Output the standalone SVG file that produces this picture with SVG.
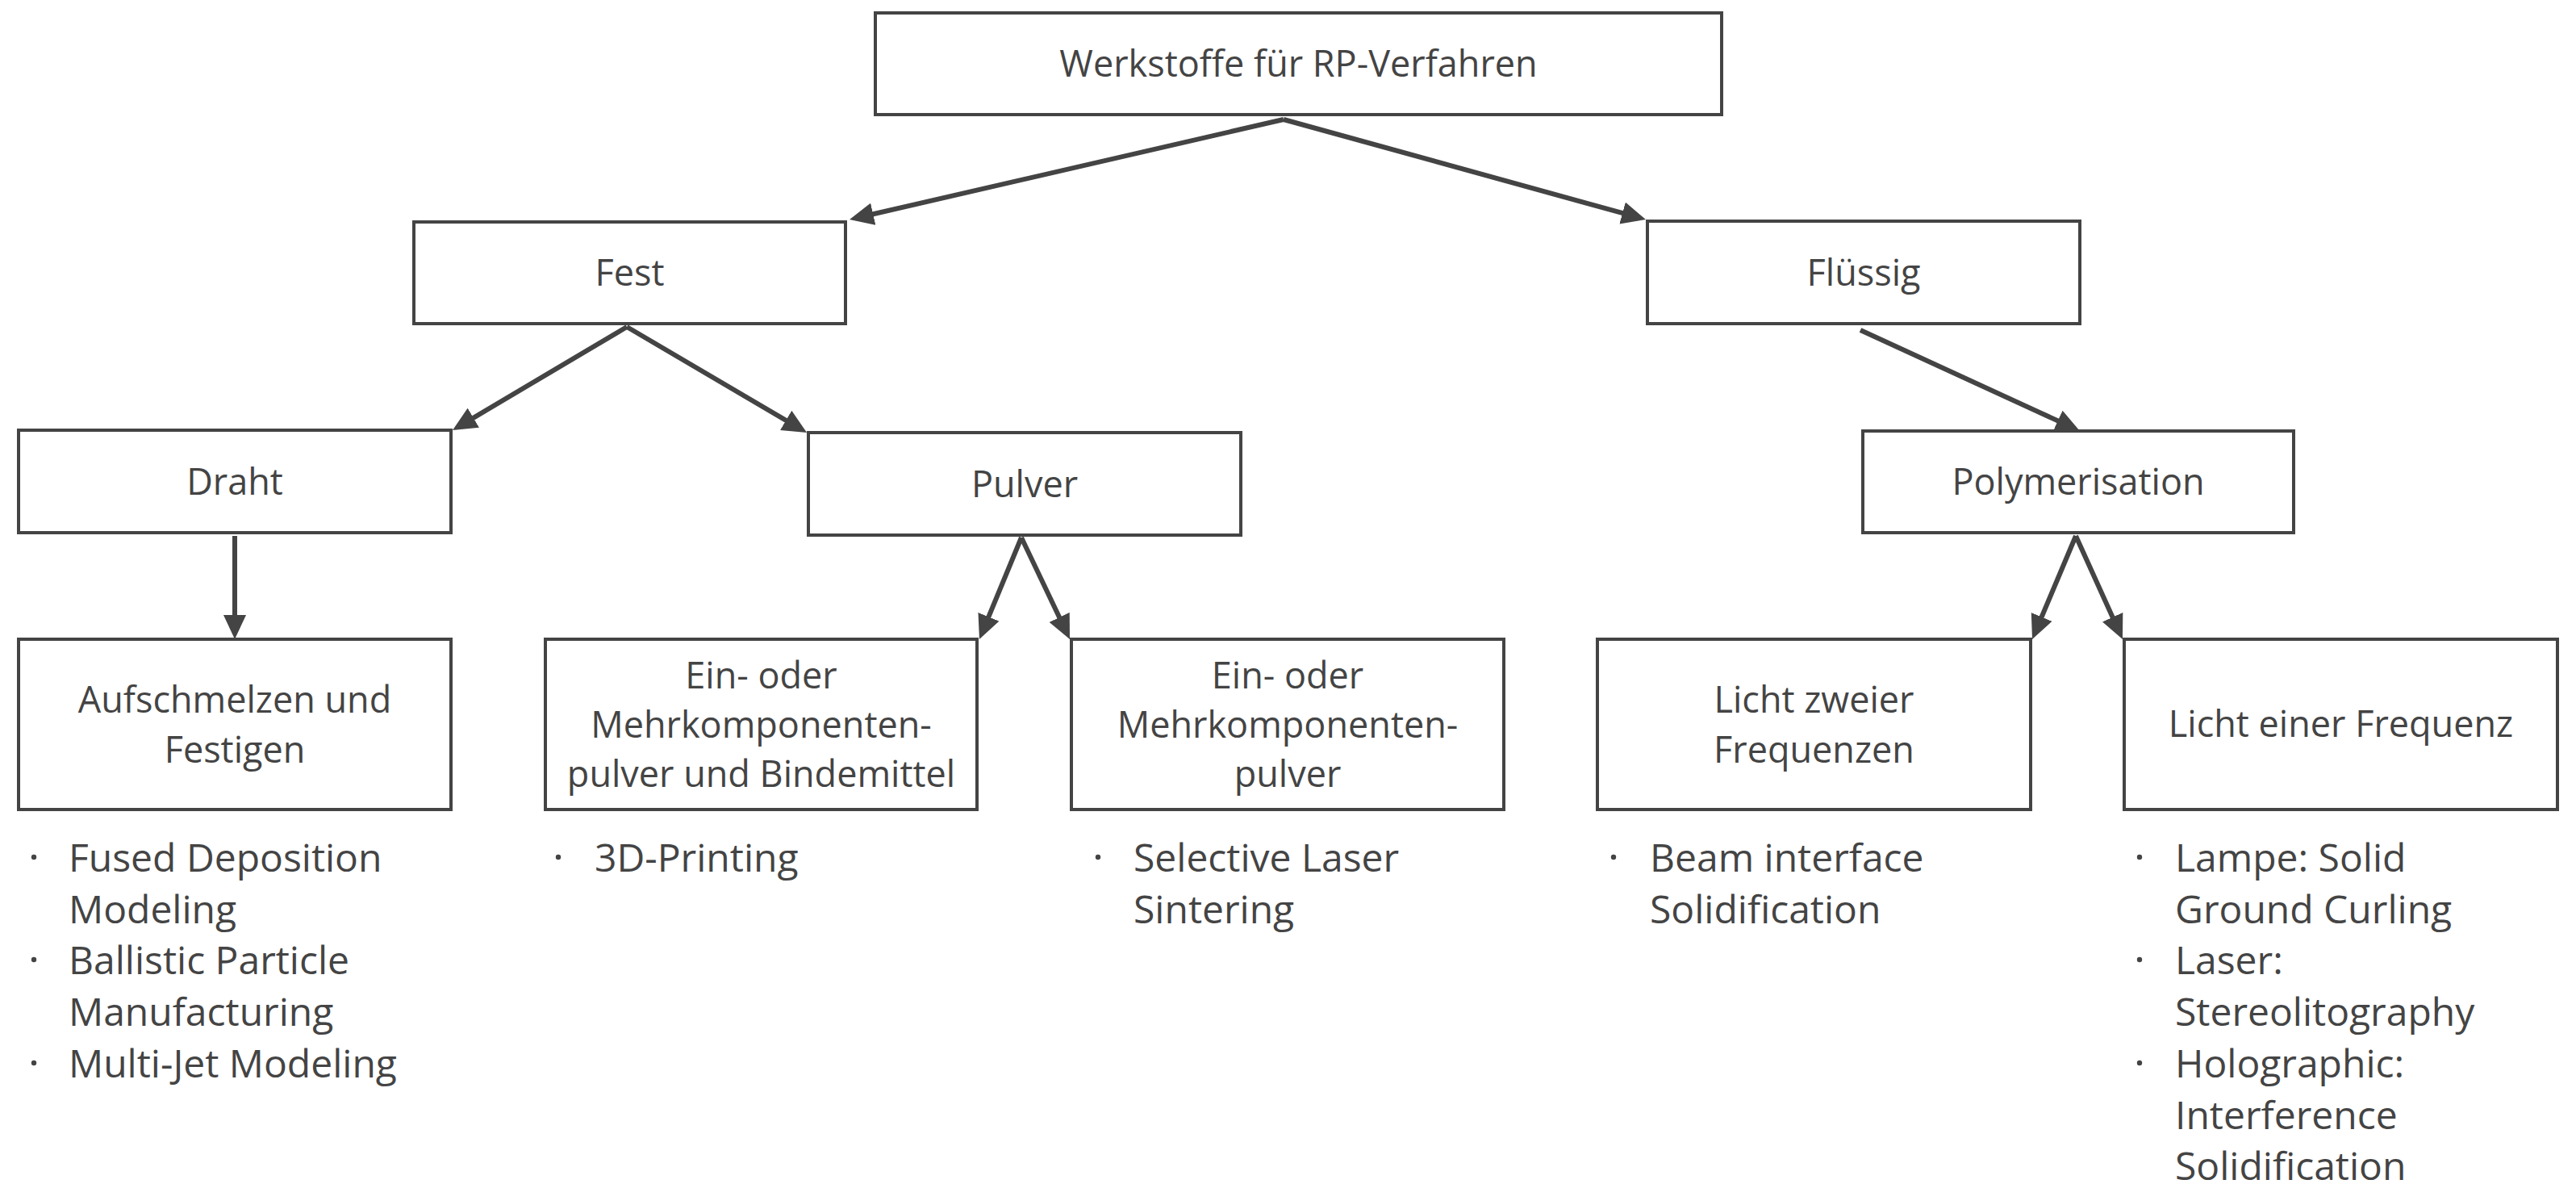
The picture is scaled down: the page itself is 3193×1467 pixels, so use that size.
<svg xmlns="http://www.w3.org/2000/svg" width="3193" height="1467" viewBox="0 0 3193 1467">
<style>
.box{fill:#ffffff;stroke:#444444;stroke-width:4}
.t{font-family:"Open Sans","Liberation Sans",sans-serif;font-size:45px;fill:#444444}
.b{font-family:"Open Sans","Liberation Sans",sans-serif;font-size:48px;fill:#444444}
.c{text-anchor:middle}
.con{stroke:#444444;stroke-width:6;fill:none}
.dot{fill:#444444}
</style>
<defs>
<marker id="ah" viewBox="0 0 30 28" refX="10" refY="14" markerWidth="30" markerHeight="28" markerUnits="userSpaceOnUse" orient="auto">
<path d="M0,0 L30,14 L0,28 z" fill="#444444"/>
</marker>
</defs>
<rect width="3193" height="1467" fill="#ffffff"/>
<g id="connectors">
<line class="con" x1="1591" y1="148" x2="1072.5" y2="267.5" marker-end="url(#ah)"/>
<line class="con" x1="1591" y1="148" x2="2020.7" y2="266.7" marker-end="url(#ah)"/>
<line class="con" x1="777" y1="405" x2="578.2" y2="522.8" marker-end="url(#ah)"/>
<line class="con" x1="777" y1="405" x2="982.8" y2="525.9" marker-end="url(#ah)"/>
<line class="con" x1="291" y1="664" x2="291" y2="772" marker-end="url(#ah)"/>
<line class="con" x1="1266" y1="666" x2="1221.6" y2="773.5" marker-end="url(#ah)"/>
<line class="con" x1="1266" y1="666" x2="1317.4" y2="773.9" marker-end="url(#ah)"/>
<line class="con" x1="2306" y1="409" x2="2559.8" y2="525.6" marker-end="url(#ah)"/>
<line class="con" x1="2573" y1="664" x2="2526.8" y2="773.6" marker-end="url(#ah)"/>
<line class="con" x1="2573" y1="664" x2="2622.7" y2="773.8" marker-end="url(#ah)"/>
</g>
<g id="n-root">
<rect class="box" x="1085" y="16" width="1049" height="126"/>
<text class="t c" x="1609.5" y="95">Werkstoffe für RP-Verfahren</text>
</g>
<g id="n-fest">
<rect class="box" x="513" y="275" width="535" height="126"/>
<text class="t c" x="780.5" y="354">Fest</text>
</g>
<g id="n-fluessig">
<rect class="box" x="2042" y="274" width="536" height="127"/>
<text class="t c" x="2310" y="354">Flüssig</text>
</g>
<g id="n-draht">
<rect class="box" x="23" y="533" width="536" height="127"/>
<text class="t c" x="291" y="613">Draht</text>
</g>
<g id="n-pulver">
<rect class="box" x="1002" y="536" width="536" height="127"/>
<text class="t c" x="1270" y="616">Pulver</text>
</g>
<g id="n-polymerisation">
<rect class="box" x="2309" y="534" width="534" height="126"/>
<text class="t c" x="2576" y="613">Polymerisation</text>
</g>
<g id="n-aufschmelzen">
<rect class="box" x="23" y="792" width="536" height="211"/>
<text class="t c" x="291" y="883">Aufschmelzen und</text>
<text class="t c" x="291" y="945">Festigen</text>
<circle class="dot" cx="42" cy="1062" r="3.2"/>
<text class="b" x="85" y="1080">Fused Deposition</text>
<text class="b" x="85" y="1143.5">Modeling</text>
<circle class="dot" cx="42" cy="1189" r="3.2"/>
<text class="b" x="85" y="1207">Ballistic Particle</text>
<text class="b" x="85" y="1271">Manufacturing</text>
<circle class="dot" cx="42" cy="1317" r="3.2"/>
<text class="b" x="85" y="1335">Multi-Jet Modeling</text>
</g>
<g id="n-bindemittel">
<rect class="box" x="676" y="792" width="535" height="211"/>
<text class="t c" x="943.5" y="853">Ein- oder</text>
<text class="t c" x="943.5" y="914">Mehrkomponenten-</text>
<text class="t c" x="943.5" y="975">pulver und Bindemittel</text>
<circle class="dot" cx="692" cy="1062" r="3.2"/>
<text class="b" x="737" y="1080">3D-Printing</text>
</g>
<g id="n-sls">
<rect class="box" x="1328" y="792" width="536" height="211"/>
<text class="t c" x="1596" y="853">Ein- oder</text>
<text class="t c" x="1596" y="914">Mehrkomponenten-</text>
<text class="t c" x="1596" y="975">pulver</text>
<circle class="dot" cx="1361" cy="1062" r="3.2"/>
<text class="b" x="1405" y="1080">Selective Laser</text>
<text class="b" x="1405" y="1143.5">Sintering</text>
</g>
<g id="n-licht-zweier">
<rect class="box" x="1980" y="792" width="537" height="211"/>
<text class="t c" x="2248.5" y="883">Licht zweier</text>
<text class="t c" x="2248.5" y="945">Frequenzen</text>
<circle class="dot" cx="2000" cy="1062" r="3.2"/>
<text class="b" x="2045" y="1080">Beam interface</text>
<text class="b" x="2045" y="1143.5">Solidification</text>
</g>
<g id="n-licht-einer">
<rect class="box" x="2633" y="792" width="537" height="211"/>
<text class="t c" x="2901.5" y="913">Licht einer Frequenz</text>
<circle class="dot" cx="2652" cy="1062" r="3.2"/>
<text class="b" x="2696" y="1080">Lampe: Solid</text>
<text class="b" x="2696" y="1143.5">Ground Curling</text>
<circle class="dot" cx="2652" cy="1189" r="3.2"/>
<text class="b" x="2696" y="1207">Laser:</text>
<text class="b" x="2696" y="1271">Stereolitography</text>
<circle class="dot" cx="2652" cy="1317" r="3.2"/>
<text class="b" x="2696" y="1335">Holographic:</text>
<text class="b" x="2696" y="1399">Interference</text>
<text class="b" x="2696" y="1462">Solidification</text>
</g>
</svg>
